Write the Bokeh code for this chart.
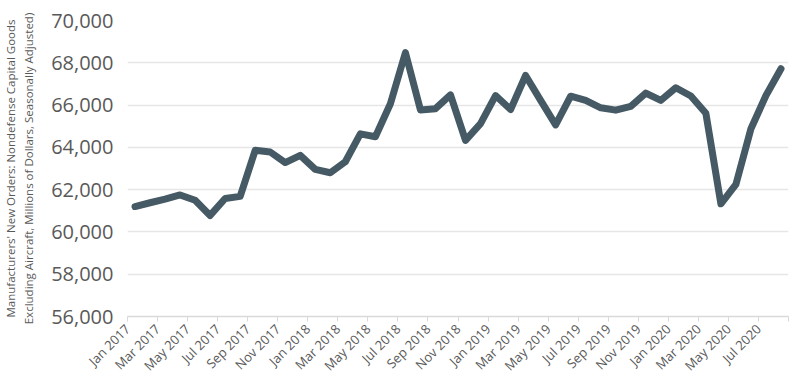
import math
from bokeh.plotting import figure
from bokeh.models import Range1d, FixedTicker, NumeralTickFormatter, ColumnDataSource
from bokeh.embed import file_html
from bokeh.resources import INLINE

months = ["Jan", "Feb", "Mar", "Apr", "May", "Jun", "Jul", "Aug", "Sep", "Oct", "Nov", "Dec"]
periods = [f"{months[m]} {y}" for y in (2017, 2018, 2019, 2020) for m in range(12)][:44]

orders = [
    61200, 61380, 61550, 61750, 61500, 60780, 61580, 61680, 63860, 63780, 63280, 63620,
    62960, 62800, 63320, 64640, 64500, 66060, 68480, 65770, 65830, 66480, 64330, 65120,
    66450, 65790, 67400, 66220, 65060, 66420, 66220, 65870, 65760, 65940, 66570, 66220,
    66820, 66430, 65610, 61330, 62250, 64880, 66450, 67720,
]

y_ticks = [56000, 58000, 60000, 62000, 64000, 66000, 68000, 70000]
x_tick_idx = list(range(0, 45, 2))
x_tick_labels = {i: (periods[i] if i < len(periods) else "") for i in x_tick_idx}

FONT = "Open Sans"
TEXT = "#595959"

src = ColumnDataSource(dict(x=[i + 0.5 for i in range(len(orders))], y=orders, period=periods))

p = figure(width=800, height=383, output_backend="svg", toolbar_location=None,
           x_range=Range1d(0, 44), y_range=Range1d(56000, 70000),
           min_border_left=126, min_border_right=12, min_border_top=20, min_border_bottom=67)
p.outline_line_color = None
p.background_fill_color = "white"
p.border_fill_color = "white"

p.line("x", "y", source=src, line_color="#455a64", line_width=7, line_join="round", line_cap="round")

p.xgrid.grid_line_color = None
p.ygrid.grid_line_color = "#e6e6e6"
p.ygrid.grid_line_width = 1.5
p.ygrid.ticker = FixedTicker(ticks=y_ticks)

p.yaxis.ticker = FixedTicker(ticks=y_ticks)
p.yaxis.formatter = NumeralTickFormatter(format="0,0")
p.yaxis.axis_line_color = None
p.yaxis.major_tick_line_color = None
p.yaxis.major_tick_out = 0
p.yaxis.major_tick_in = 0
p.yaxis.minor_tick_line_color = None
p.yaxis.minor_tick_out = 0
p.yaxis.major_label_text_font = FONT
p.yaxis.major_label_text_font_size = "20px"
p.yaxis.major_label_text_color = TEXT
p.yaxis.major_label_standoff = 14
p.yaxis.axis_label = "Manufacturers' New Orders: Nondefense Capital Goods\nExcluding Aircraft, Millions of Dollars, Seasonally Adjusted)"
p.yaxis.axis_label_text_font = FONT
p.yaxis.axis_label_text_font_size = "11.5px"
p.yaxis.axis_label_text_font_style = "normal"
p.yaxis.axis_label_text_color = TEXT
p.yaxis.axis_label_standoff = 12

p.xaxis.ticker = FixedTicker(ticks=x_tick_idx)
p.xaxis.major_label_overrides = x_tick_labels
p.xaxis.major_label_orientation = math.pi / 4
p.xaxis.axis_line_color = "#d9d9d9"
p.xaxis.axis_line_width = 1.5
p.xaxis.major_tick_line_color = "#d9d9d9"
p.xaxis.major_tick_out = 5
p.xaxis.major_tick_in = 0
p.xaxis.minor_tick_line_color = None
p.xaxis.minor_tick_out = 0
p.xaxis.major_label_text_font = FONT
p.xaxis.major_label_text_font_size = "13px"
p.xaxis.major_label_text_line_height = 1.0
p.xaxis.major_label_text_color = TEXT
p.xaxis.major_label_standoff = 5

open("out.html", "w").write(file_html(p, INLINE))
